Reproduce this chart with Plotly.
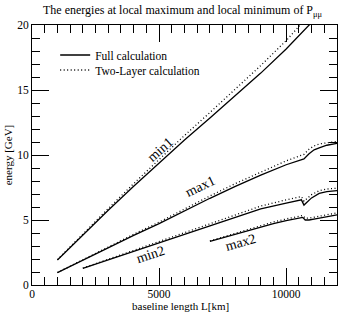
import plotly.graph_objects as go

# ---- data ----
L_min1 = [1000, 2000, 3000, 4000, 5000, 6000, 7000, 8000, 9000, 10000, 10500, 10600, 10900, 11100]
min1_full = [1.92, 3.85, 5.75, 7.6, 9.4, 11.15, 12.85, 14.55, 16.3, 18.15, 19.15, 19.4, 20.0, 20.4]
min1_two = [1.95, 3.93, 5.88, 7.8, 9.68, 11.5, 13.27, 15.05, 16.88, 18.8, 19.85, 20.1, 20.6, 20.9]

L_max1 = [1000, 2000, 3000, 4000, 5000, 6000, 7000, 8000, 9000, 10000, 10600, 10700, 10900, 11100, 11300, 11600, 12000]
max1_full = [0.95, 1.92, 2.88, 3.82, 4.72, 5.72, 6.67, 7.58, 8.45, 9.25, 9.65, 9.7, 10.1, 10.4, 10.55, 10.75, 10.9]
max1_two = [0.96, 1.95, 2.94, 3.9, 4.84, 5.87, 6.85, 7.8, 8.7, 9.55, 9.98, 10.05, 10.45, 10.7, 10.85, 10.95, 11.05]

L_min2 = [2000, 3000, 4000, 5000, 6000, 7000, 8000, 9000, 10000, 10600, 10700, 11000, 11300, 11600, 12000]
min2_full = [1.28, 1.95, 2.6, 3.25, 3.9, 4.55, 5.2, 5.85, 6.3, 6.55, 6.15, 6.7, 7.05, 7.18, 7.26]
min2_two = [1.3, 1.99, 2.67, 3.35, 4.03, 4.72, 5.4, 6.07, 6.55, 6.8, 6.45, 6.95, 7.25, 7.38, 7.45]

L_max2 = [7000, 7500, 8000, 8500, 9000, 9500, 10000, 10500, 10650, 10750, 10900, 11200, 11600, 12000]
max2_full = [3.35, 3.63, 3.92, 4.2, 4.47, 4.72, 4.95, 5.15, 5.2, 5.0, 5.0, 5.1, 5.25, 5.4]
max2_two = [3.4, 3.7, 4.0, 4.3, 4.58, 4.85, 5.08, 5.3, 5.35, 5.15, 5.15, 5.25, 5.4, 5.55]

curve_names = ["min1", "max1", "min2", "max2"]
label_L = [5050, 6626, 4657, 8200]
label_E = [10.4, 7.54, 2.38, 3.3]
label_angle = [-42, -26, -18, -16]

x_ticks = [0, 5000, 10000]
y_ticks = [0, 5, 10, 15, 20]

FONT = "Liberation Serif"

series = [
    (L_min1, min1_full, min1_two),
    (L_max1, max1_full, max1_two),
    (L_min2, min2_full, min2_two),
    (L_max2, max2_full, max2_two),
]

fig = go.Figure()
for i, (L, full, two) in enumerate(series):
    fig.add_trace(go.Scatter(
        x=L, y=full, mode="lines", name="Full calculation",
        line=dict(color="black", width=1.3),
        legend="legend", showlegend=(i == 0), legendgroup="full",
    ))
    fig.add_trace(go.Scatter(
        x=L, y=two, mode="lines", name="Two-Layer calculation",
        line=dict(color="black", width=1.3, dash="1px,2.5px"),
        legend="legend2", showlegend=(i == 0), legendgroup="two",
    ))

for name, lx, ly, ang in zip(curve_names, label_L, label_E, label_angle):
    fig.add_annotation(x=lx, y=ly, text=name, showarrow=False, textangle=ang,
                       font=dict(family=FONT, size=14, color="black"))

# x-axis title placed as a paper annotation (closer to the tick labels than Plotly allows)
fig.add_annotation(x=(180 - 32) / 305, y=(285 - 305.5) / 260, xref="paper", yref="paper",
                   text="baseline length L[km]", showarrow=False,
                   xanchor="center", yanchor="middle", borderpad=0,
                   font=dict(family=FONT, size=11, color="black"))

axis_common = dict(
    showline=True, linecolor="black", linewidth=1, mirror="allticks",
    ticks="inside", ticklen=17, tickwidth=1, tickcolor="black",
    showgrid=False, zeroline=False,
    tickfont=dict(family=FONT, size=11.5, color="black"),
)

fig.update_xaxes(
    range=[0, 12000], tickvals=x_ticks, ticktext=[str(v) for v in x_ticks],
    minor=dict(dtick=500, ticklen=8, tickcolor="black", ticks="inside", tickwidth=1),
    ticklabelstandoff=-2,
    **axis_common,
)
fig.update_yaxes(
    range=[0, 20], tickvals=y_ticks, ticktext=[str(v) for v in y_ticks],
    minor=dict(dtick=1, ticklen=8, tickcolor="black", ticks="inside", tickwidth=1),
    title=dict(text="energy [GeV]", font=dict(family=FONT, size=11, color="black"), standoff=2),
    **axis_common,
)

legend_common = dict(
    bgcolor="rgba(0,0,0,0)", borderwidth=0,
    font=dict(family=FONT, size=11.5, color="black"),
    xanchor="left", yanchor="middle", itemwidth=30,
)

fig.update_layout(
    width=338, height=315,
    margin=dict(l=32, r=1, t=25, b=30),
    paper_bgcolor="white", plot_bgcolor="white",
    title=dict(text="The energies at local maximum and local minimum of P<sub>μμ</sub>",
               font=dict(family=FONT, size=12, color="black"),
               x=0.54, xanchor="center", xref="container",
               y=1 - 10 / 315, yanchor="middle", yref="container"),
    legend=dict(x=0.076, y=(285 - 55) / 260, **legend_common),
    legend2=dict(x=0.076, y=(285 - 70) / 260, **legend_common),
)

fig.write_html("out.html", config={"displayModeBar": False},
               post_script="document.body.style.margin='0';document.body.style.overflow='hidden';")
